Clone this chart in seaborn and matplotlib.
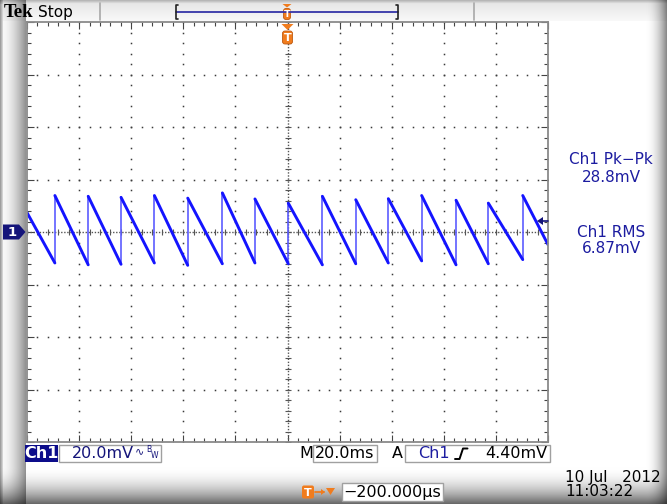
import numpy as np
import pandas as pd
import matplotlib
matplotlib.use("Agg")
import matplotlib.pyplot as plt
import seaborn as sns
from matplotlib.patches import Rectangle, Polygon, FancyBboxPatch

# ---------------- data ----------------
# time of each fast rising edge (ms, 20 ms/div, trigger at 0)
rise_time_ms = [-89.3, -76.5, -63.9, -51.1, -38.3, -25.0, -12.5, 0.3,
                13.4, 26.2, 38.7, 51.5, 64.7, 77.1, 90.3]
# level reached at the top of each rising edge (mV, 20 mV/div)
peak_mv = [13.9, 13.6, 13.2, 13.9, 12.9, 14.9, 12.6, 11.0,
           13.6, 12.3, 12.7, 13.9, 12.1, 11.0, 13.9]
# level at the bottom of each ramp, just before the rising edge (mV)
trough_mv = [-11.8, -12.5, -12.3, -11.8, -12.7, -12.1, -11.8, -12.1,
             -12.5, -12.1, -11.8, -11.0, -12.5, -12.1, -10.5]
start_time_ms, start_mv = -100.0, 7.4
end_time_ms, end_mv = 100.0, -4.8

meas_labels = ["Ch1 Pk\u2212Pk", "28.8mV", "Ch1 RMS", "6.87mV"]
ch_scale = "20.0mV"
time_scale = "20.0ms"
trig_level = "4.40mV"
trig_pos = "\u2212200.000\u00b5s"
date_str = "10 Jul   2012"
time_str = "11:03:22"

# ---------------- figure ----------------
sns.set_theme(style="white")
plt.rcParams["font.family"] = ["DejaVu Sans"]

W, H = 667, 504
fig = plt.figure(figsize=(W / 100, H / 100), dpi=100)

# background with bevel shading
yy, xx = np.mgrid[0:H, 0:W].astype(float)
g = np.ones((H, W))
left = np.where(xx < 26, 0.97 - 0.42 * (np.clip(xx - 3, 0, None) / 23) ** 1.6, 1.0)
left = np.where(xx < 3, 0.62 + 0.1 * xx, left)
g *= left
g *= np.where(yy > 466, 1 - 0.62 * ((yy - 466) / 38) ** 2, 1.0)
g *= np.where(xx > 645, 1 - 0.5 * ((xx - 645) / 22) ** 2, 1.0)
g *= np.where(yy < 4, 0.72 + 0.06 * yy, 1.0)
topbar = (yy >= 4) & (yy < 21) & (xx >= 3)
g = np.where(topbar, g * (0.91 + 0.004 * (yy - 4)), g)
img = np.dstack([g, g, g])
bg = fig.add_axes([0, 0, 1, 1], zorder=0)
bg.imshow(img, extent=(0, W, H, 0), aspect="auto", interpolation="bilinear")
bg.set_xlim(0, W)
bg.set_ylim(H, 0)
bg.axis("off")

# graticule axes
L, T, R, B = 27, 22, 548, 442
ax = fig.add_axes([L / W, 1 - B / H, (R - L) / W, (B - T) / H], zorder=2)
ax.set_facecolor("white")
ax.set_xlim(-100, 100)
ax.set_ylim(-80, 80)

dot_kw = dict(ls="none", marker="s", ms=1.1, color="#3a3a3a", mew=0)
xs = np.arange(-100, 100.01, 4)
ys = np.arange(-80, 80.01, 4)
for k in (-60, -40, -20, 20, 40, 60):
    ax.plot(xs, np.full_like(xs, k), **dot_kw)
for k in (-80, -60, -40, -20, 20, 40, 60, 80):
    ax.plot(np.full_like(ys, k), ys, **dot_kw)
# centre lines
ax.plot([-100, 100], [0, 0], ls=(0, (1.0, 1.2)), lw=1.0, color="#555555")
ax.plot([0, 0], [-80, 80], ls=(0, (1.0, 1.2)), lw=1.0, color="#555555")
ax.plot(xs, np.zeros_like(xs), ls="none", marker="|", ms=4.5, mew=0.8, color="#555555")
ax.plot(np.zeros_like(ys), ys, ls="none", marker="_", ms=4.5, mew=0.8, color="#555555")

ax.set_xticks(np.arange(-100, 101, 20))
ax.set_yticks(np.arange(-80, 81, 20))
ax.set_xticks(np.arange(-100, 101, 4), minor=True)
ax.set_yticks(np.arange(-80, 81, 4), minor=True)
ax.tick_params(which="both", direction="in", top=True, right=True, bottom=True, left=True,
               labelbottom=False, labelleft=False, color="#444444", width=0.8)
ax.tick_params(which="major", length=5)
ax.tick_params(which="minor", length=3)
for s in ax.spines.values():
    s.set_color("#8a8a8a")
    s.set_linewidth(1.3)

# waveform
rows = []
pt, pv = start_time_ms, start_mv
for i, (t, p, tr) in enumerate(zip(rise_time_ms, peak_mv, trough_mv)):
    rows.append(dict(t=pt, v=pv, seg=f"f{i}", kind="fall"))
    rows.append(dict(t=t, v=tr, seg=f"f{i}", kind="fall"))
    rows.append(dict(t=t, v=tr, seg=f"r{i}", kind="rise"))
    rows.append(dict(t=t, v=p, seg=f"r{i}", kind="rise"))
    pt, pv = t, p
rows.append(dict(t=pt, v=pv, seg="fend", kind="fall"))
rows.append(dict(t=end_time_ms, v=end_mv, seg="fend", kind="fall"))
df = pd.DataFrame(rows)
sns.lineplot(data=df[df.kind == "rise"], x="t", y="v", units="seg", estimator=None,
             sort=False, color="#5c5cff", lw=1.2, ax=ax)
sns.lineplot(data=df[df.kind == "fall"], x="t", y="v", units="seg", estimator=None,
             sort=False, color="#1414ff", lw=2.1, ax=ax)
ax.set_xlabel("")
ax.set_ylabel("")

# ---------------- overlay in pixel coordinates ----------------
fx = fig.add_axes([0, 0, 1, 1], zorder=3)
fx.set_xlim(0, W)
fx.set_ylim(H, 0)
fx.axis("off")
fx.patch.set_alpha(0)

NAVY = "#14147a"
BLUE = "#1c1ca0"
ORANGE = "#f07c1e"

# top bar
fx.text(4, 12.5, "Tek", fontsize=13.5, fontweight="bold", family="Liberation Serif",
        ha="left", va="center", color="black")
fx.text(38, 12, "Stop", fontsize=11, ha="left", va="center", color="black")
for xv in (100, 474):
    fx.plot([xv, xv], [3, 20], color="#a8a8a8", lw=1.2)
fx.plot([176, 398], [12, 12], color="#3434a8", lw=1.3)
fx.plot([178, 176, 176, 178], [5, 5, 19, 19], color="#222222", lw=1.2)
fx.plot([396, 398, 398, 396], [5, 5, 19, 19], color="#222222", lw=1.2)


def trig_marker(x, ytop, h_tri, h_body, w):
    fx.add_patch(Polygon([(x - w / 2, ytop), (x + w / 2, ytop), (x, ytop + h_tri)],
                         closed=True, color=ORANGE, lw=0))
    y0 = ytop + h_tri + 1
    fx.add_patch(FancyBboxPatch((x - w / 2 + 1, y0), w - 2, h_body,
                                boxstyle="round,pad=0,rounding_size=2.5",
                                fc=ORANGE, ec="#c05a10", lw=0.6))
    fx.text(x, y0 + h_body / 2 + 0.5, "T", color="white", fontsize=h_body * 0.62,
            fontweight="bold", ha="center", va="center")


trig_marker(287, 4, 3.5, 11, 9)
trig_marker(287.5, 24, 6, 13, 12)

# channel 1 ground marker
fx.add_patch(Polygon([(3, 224.5), (19, 224.5), (25.5, 232), (19, 239.5), (3, 239.5)],
                     closed=True, color=NAVY, lw=0))
fx.text(12, 232.5, "1", color="white", fontsize=9.5, fontweight="bold",
        ha="center", va="center")

# trigger level marker at right edge
fx.add_patch(Polygon([(537, 221), (543, 217), (543, 225)], closed=True, color=NAVY, lw=0))
fx.plot([542, 548], [221, 221], color=NAVY, lw=1.2)

# measurements
for lab, yv in zip(meas_labels, (159, 177, 232.5, 248.5)):
    fx.text(611, yv, lab, fontsize=11, color=BLUE, ha="center", va="center")

# bottom readouts
fx.add_patch(Rectangle((25, 444.5), 33, 17.5, fc="#0c0c8a", ec="none"))
fx.text(41.5, 453.5, "Ch1", color="white", fontsize=11.5, ha="center", va="center",
        fontweight="bold")


def box(x0, x1, y0, y1):
    fx.add_patch(Rectangle((x0, y0), x1 - x0, y1 - y0, fc="white", ec="#a0a0a0", lw=1.0))


box(58.5, 161, 444.5, 462)
fx.text(72, 453.5, ch_scale, color=NAVY, fontsize=11.5, ha="left", va="center")
fx.text(135, 451, "\u223f", color=NAVY, fontsize=8, ha="left", va="center")
fx.text(146, 449, "B", color=NAVY, fontsize=5.5, ha="left", va="center")
fx.text(151, 456, "W", color=NAVY, fontsize=5.5, ha="left", va="center")

fx.text(299, 453.5, "M", color="black", fontsize=11.5, ha="left", va="center")
box(313, 377, 444.5, 462)
fx.text(345, 453.5, time_scale, color="black", fontsize=11.5, ha="center", va="center")

fx.text(392, 453.5, "A", color="black", fontsize=11.5, ha="left", va="center")
box(404.5, 549.5, 444.5, 462)
fx.text(418, 453.5, "Ch1", color=BLUE, fontsize=11.5, ha="left", va="center")
fx.plot([455, 459.5, 463, 467.5], [459, 459, 448.5, 448.5], color="black", lw=1.4)
fx.text(547, 453.5, trig_level, color="black", fontsize=11.5, ha="right", va="center")

# trigger position
fx.add_patch(FancyBboxPatch((302, 485.5), 12, 13, boxstyle="round,pad=0,rounding_size=2",
                            fc=ORANGE, ec="none"))
fx.text(308, 492.5, "T", color="white", fontsize=8, fontweight="bold", ha="center", va="center")
fx.plot([315, 324], [492, 492], color=ORANGE, lw=1.3)
fx.add_patch(Polygon([(321, 489), (325, 492), (321, 495)], closed=True, color=ORANGE, lw=0))
fx.add_patch(Polygon([(326, 488), (335, 488), (330.5, 495)], closed=True, color=ORANGE, lw=0))
box(342, 443, 483, 500.5)
fx.text(392.5, 492, trig_pos, color="black", fontsize=11.5, ha="center", va="center")

fx.text(565, 477.5, date_str, color="black", fontsize=11, ha="left", va="center")
fx.text(565, 491.5, time_str, color="black", fontsize=11, ha="left", va="center")

fig.savefig("out.png", dpi=100)
